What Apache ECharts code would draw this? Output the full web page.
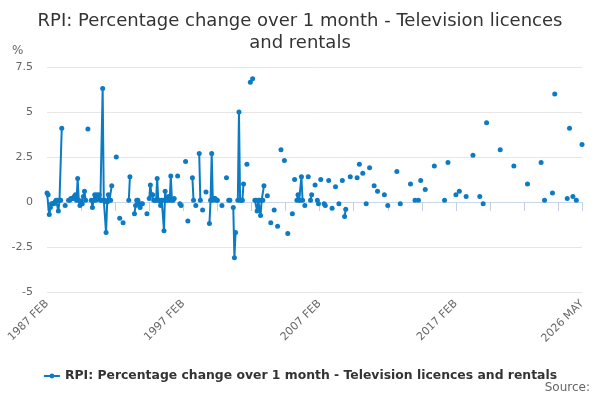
<!DOCTYPE html>
<html>
<head>
<meta charset="utf-8">
<title>RPI: Percentage change over 1 month - Television licences and rentals</title>
<script src="https://cdn.jsdelivr.net/npm/echarts@6/dist/echarts.min.js"></script>
<style>
    html, body { margin: 0; padding: 0; background: #fff; }
    #chart { width: 600px; height: 400px; }
</style>
</head>
<body>
<div id="chart"></div>
<script>
// months run from 1987 FEB to 2026 MAY, one category per month
var monthNames = ['JAN','FEB','MAR','APR','MAY','JUN','JUL','AUG','SEP','OCT','NOV','DEC'];
var startYear = 1987;
var startMonth = 1;      // FEB
var monthCount = 472;    // up to 2026 MAY

var obsMonth = [
    0,1,2,3,4,5,6,7,8,9,10,11,12,13,
    16,
    19,20,21,22,23,24,25,26,27,28,29,30,31,32,33,34,
    36,
    39,40,41,42,43,44,45,46,47,48,49,50,51,52,53,54,55,56,57,
    61,64,67,
    72,73,
    77,78,79,80,81,82,83,84,
    88,
    90,91,92,93,94,95,96,97,98,99,100,101,102,103,104,105,106,107,108,109,110,111,112,
    115,117,118,
    122,124,128,129,131,134,135,137,140,
    143,144,145,146,147,148,149,150,
    154,158,160,161,
    164,165,166,
    168,169,170,171,172,173,
    176,179,181,
    183,184,185,186,187,188,189,190,191,
    194,197,200,203,206,209,212,216,218,
    220,221,222,223,224,225,
    227,230,232,233,236,238,239,241,244,245,248,251,254,257,260,262,263,267,273,275,278,281,284,288,291,297,300,308,311,320,324,327,329,333,341,
    350,353,360,363,369,375,381,384,387,399,411,423,435,438,445,447,458,460,463,466,471
];
var obsValue = [
    0.5,0.4,-0.7,-0.3,-0.1,-0.1,-0.1,0.0,0.1,0.1,-0.5,0.1,0.1,4.1,
    -0.2,
    0.1,0.1,0.2,0.2,0.2,0.3,0.4,0.1,1.3,0.1,-0.2,0.0,-0.1,0.3,0.6,0.1,
    4.05,
    0.1,-0.3,0.1,0.4,0.1,0.4,0.2,0.4,0.1,0.1,6.3,0.1,0.1,-1.7,0.0,0.4,0.1,0.1,0.9,
    2.5,-0.9,-1.15,
    0.1,1.4,
    -0.65,-0.2,0.1,0.1,-0.1,-0.3,-0.1,-0.1,
    -0.65,
    0.2,0.95,0.4,0.4,0.1,0.1,0.1,1.3,0.1,0.1,-0.2,0.1,0.1,-1.6,0.6,0.1,0.1,0.3,0.1,1.45,0.1,0.1,0.2,
    1.45,-0.1,-0.2,
    2.25,-1.05,1.35,0.1,-0.2,2.7,0.1,-0.45,0.55,
    -1.2,0.1,2.7,0.1,0.2,0.2,0.1,0.1,
    -0.2,1.35,0.1,0.1,
    -0.3,-3.1,-1.7,
    0.1,5.0,0.1,0.1,0.1,1.0,
    2.1,6.65,6.85,
    0.1,0.1,-0.5,0.1,0.1,-0.75,0.1,0.1,0.9,
    0.35,-1.15,-0.45,-1.35,2.9,2.3,-1.75,-0.65,1.25,
    0.1,0.4,0.1,0.1,1.4,0.1,
    -0.2,1.4,0.1,0.4,0.95,0.1,-0.1,1.25,-0.1,-0.2,1.2,-0.35,0.85,-0.1,1.2,-0.8,-0.4,1.4,1.35,2.1,1.6,-0.1,1.9,0.9,0.6,0.4,-0.2,1.7,-0.1,1.0,0.1,0.1,1.2,0.7,2.0,
    0.1,2.2,0.4,0.6,0.3,2.6,0.3,-0.1,4.4,2.9,2.0,1.0,2.2,0.1,0.5,6.0,0.2,4.1,0.3,0.1,3.2
];

var categories = [];
for (var i = 0; i < monthCount; i++) {
    var m = startMonth + i;
    categories.push((startYear + Math.floor(m / 12)) + ' ' + monthNames[m % 12]);
}
var seriesData = categories.map(function () { return null; });
obsMonth.forEach(function (idx, k) { seriesData[idx] = obsValue[k]; });

var lastIdx = monthCount - 1;
var font = 'DejaVu Sans';

var myChart = echarts.init(document.getElementById('chart'));
myChart.setOption({
    animation: false,
    textStyle: { fontFamily: font },
    title: {
        text: 'RPI: Percentage change over 1 month - Television licences\nand rentals',
        left: 'center',
        top: 5,
        textStyle: { fontFamily: font, fontSize: 18, fontWeight: 'normal', color: '#333', lineHeight: 22 }
    },
    grid: { left: 47, right: 18, top: 67, bottom: 108 },
    legend: {
        data: ['RPI: Percentage change over 1 month - Television licences and rentals'],
        left: 'center',
        top: 365,
        itemWidth: 16,
        itemHeight: 6,
        itemGap: 6,
        textStyle: { fontFamily: font, fontSize: 12.4, fontWeight: 'bold', color: '#333' }
    },
    xAxis: {
        type: 'category',
        data: categories,
        boundaryGap: false,
        axisLine: { lineStyle: { color: '#ccd6eb' } },
        axisTick: {
            show: true,
            length: 9,
            lineStyle: { color: '#c4cfe3', width: 1 },
            interval: function (idx) { return idx % 30 === 0 || idx === lastIdx; }
        },
        axisLabel: {
            rotate: 45,
            margin: 10,
            fontSize: 11,
            color: '#666',
            interval: function (idx) { return idx % 120 === 0 || idx === lastIdx; }
        },
        splitLine: { show: false }
    },
    yAxis: {
        type: 'value',
        min: -5,
        max: 7.5,
        interval: 2.5,
        axisLine: { show: false },
        axisTick: { show: false },
        axisLabel: { fontSize: 11, color: '#666', margin: 14 },
        splitLine: { lineStyle: { color: '#e6e6e6' } }
    },
    graphic: [
        { type: 'text', left: 12, top: 45, style: { text: '%', fontFamily: font, fontSize: 12, fill: '#666' } },
        { type: 'text', right: 10, top: 382, style: { text: 'Source:', fontFamily: font, fontSize: 12, fill: '#666' } }
    ],
    series: [
        {
            name: 'RPI: Percentage change over 1 month - Television licences and rentals',
            type: 'line',
            data: seriesData,
            connectNulls: false,
            symbol: 'circle',
            symbolSize: 5,
            showSymbol: true,
            showAllSymbol: true,
            itemStyle: { color: '#0c7bc4' },
            lineStyle: { width: 2, color: '#0c7bc4' }
        }
    ]
});
</script>
</body>
</html>
